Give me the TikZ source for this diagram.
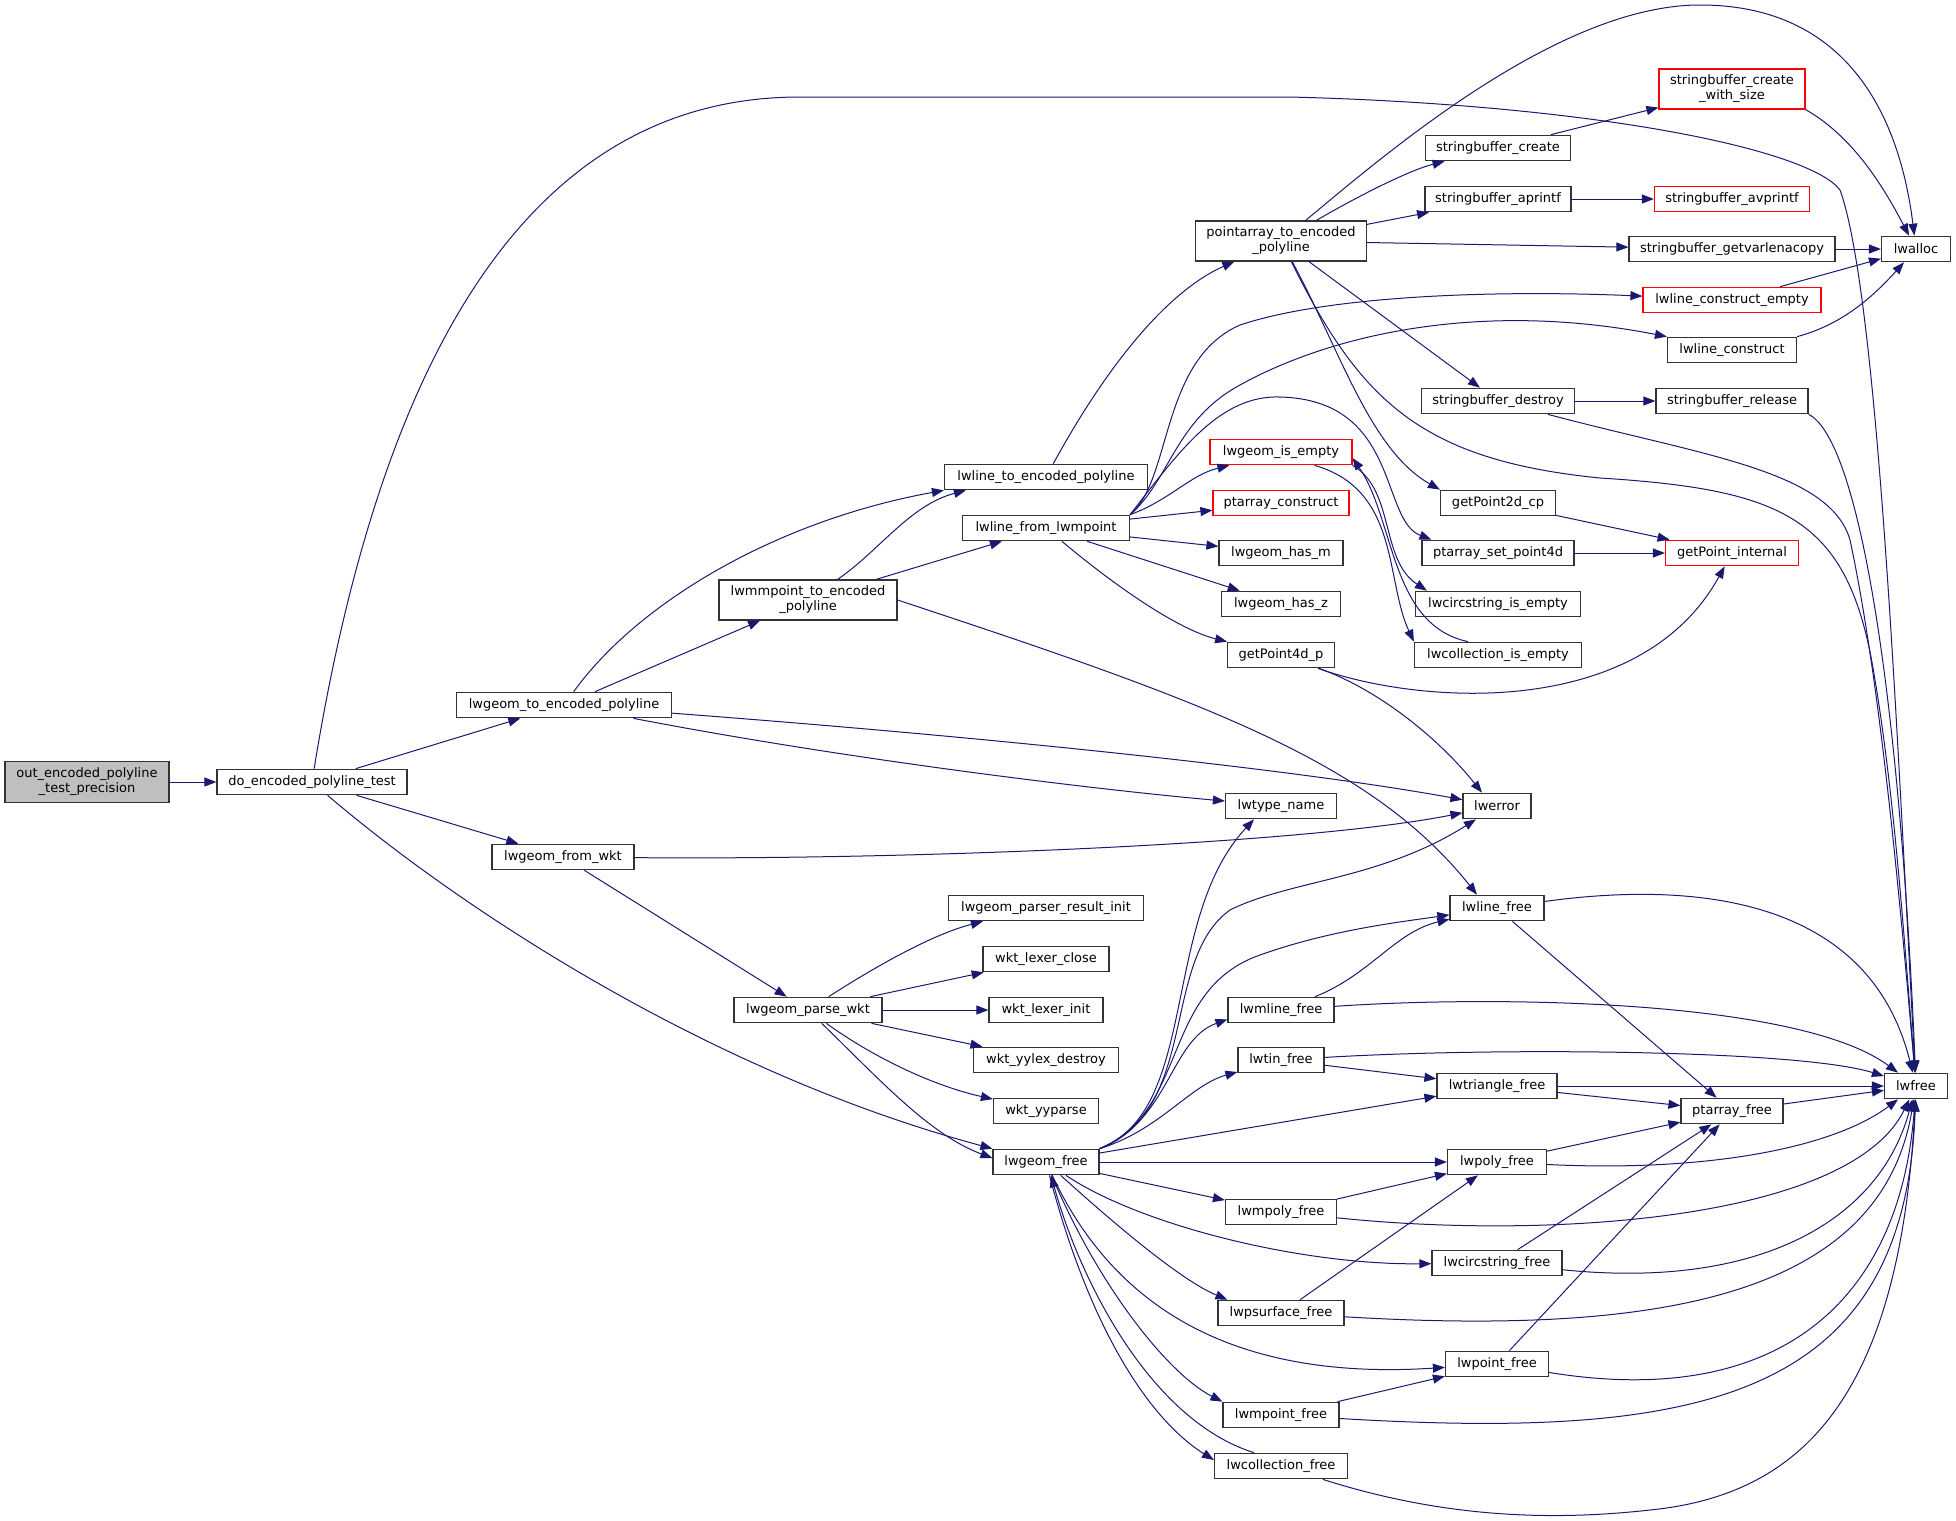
\documentclass[tikz,border=0pt]{standalone}
\usepackage{fontspec}
\setmainfont{DejaVu Sans}
\usepackage{xcolor}
\usepackage{tikz}
\usetikzlibrary{arrows.meta}

\definecolor{edgeblue}{HTML}{191970}
\definecolor{rootgray}{HTML}{BFBFBF}
\definecolor{boxline}{HTML}{333333}

\begin{document}
\begin{tikzpicture}[x=1pt, y=-1pt,
    fn/.style={draw=boxline, line width=1.2pt, fill=white, inner sep=2pt,
        minimum height=25.5pt, font=\fontsize{13}{15}\selectfont, align=center},
    fnred/.style={fn, draw=red},
    fnroot/.style={fn, fill=rootgray, minimum height=41pt},
    call/.style={draw=edgeblue, line width=1pt, -{Triangle[length=12pt, width=9pt]}}]

    \useasboundingbox (0,0) rectangle (1956,1520);

    % Caller chain
    \node[fnroot, minimum width=164pt] (outTest) at (87,782) {out\_encoded\_polyline\\\_test\_precision};
    \node[fn, minimum width=190pt] (doTest) at (312,782) {do\_encoded\_polyline\_test};
    \node[fn, minimum width=215pt] (geomToEnc) at (564,705) {lwgeom\_to\_encoded\_polyline};
    \node[fn, minimum width=142pt] (geomFromWkt) at (563,857) {lwgeom\_from\_wkt};
    \node[fn, minimum width=178pt, minimum height=40pt] (mpointToEnc) at (808,600) {lwmmpoint\_to\_encoded\\\_polyline};
    \node[fn, minimum width=148pt] (parseWkt) at (808,1010) {lwgeom\_parse\_wkt};
    \node[fn, minimum width=203pt] (lineToEnc) at (1046,477) {lwline\_to\_encoded\_polyline};
    \node[fn, minimum width=167pt] (lineFromMpoint) at (1046,528) {lwline\_from\_lwmpoint};

    % Parser column
    \node[fn, minimum width=195pt] (parserInit) at (1046,908) {lwgeom\_parser\_result\_init};
    \node[fn, minimum width=126pt] (lexerClose) at (1046,959) {wkt\_lexer\_close};
    \node[fn, minimum width=114pt] (lexerInit) at (1046,1010) {wkt\_lexer\_init};
    \node[fn, minimum width=145pt] (yylexDestroy) at (1046,1060) {wkt\_yylex\_destroy};
    \node[fn, minimum width=105pt] (yyparse) at (1046,1111) {wkt\_yyparse};
    \node[fn, minimum width=106pt] (geomFree) at (1046,1162) {lwgeom\_free};

    % Middle column
    \node[fn, minimum width=171pt, minimum height=40pt] (ptarrToEnc) at (1281,241) {pointarray\_to\_encoded\\\_polyline};
    \node[fnred, minimum width=142pt] (isEmpty) at (1281,452) {lwgeom\_is\_empty};
    \node[fnred, minimum width=136pt] (ptarrConstruct) at (1281,503) {ptarray\_construct};
    \node[fn, minimum width=124pt] (hasM) at (1281,553) {lwgeom\_has\_m};
    \node[fn, minimum width=119pt] (hasZ) at (1281,604) {lwgeom\_has\_z};
    \node[fn, minimum width=107pt] (getP4d) at (1281,655) {getPoint4d\_p};
    \node[fn, minimum width=111pt] (typeName) at (1281,806) {lwtype\_name};
    \node[fn, minimum width=106pt] (mlineFree) at (1281,1010) {lwmline\_free};
    \node[fn, minimum width=86pt] (tinFree) at (1281,1060) {lwtin\_free};
    \node[fn, minimum width=111pt] (mpolyFree) at (1281,1212) {lwmpoly\_free};
    \node[fn, minimum width=126pt] (psurfFree) at (1281,1313) {lwpsurface\_free};
    \node[fn, minimum width=116pt] (mpointFree) at (1281,1415) {lwmpoint\_free};
    \node[fn, minimum width=133pt] (collFree) at (1281,1466) {lwcollection\_free};

    % Third column
    \node[fn, minimum width=145pt] (sbCreate) at (1498,148) {stringbuffer\_create};
    \node[fn, minimum width=146pt] (sbAprintf) at (1498,199) {stringbuffer\_aprintf};
    \node[fn, minimum width=153pt] (sbDestroy) at (1498,401) {stringbuffer\_destroy};
    \node[fn, minimum width=115pt] (getP2d) at (1498,503) {getPoint2d\_cp};
    \node[fn, minimum width=152pt] (setP4d) at (1498,553) {ptarray\_set\_point4d};
    \node[fn, minimum width=165pt] (circIsEmpty) at (1498,604) {lwcircstring\_is\_empty};
    \node[fn, minimum width=167pt] (collIsEmpty) at (1498,655) {lwcollection\_is\_empty};
    \node[fn, minimum width=68pt] (lwerror) at (1497,806) {lwerror};
    \node[fn, minimum width=94pt] (lineFree) at (1497,908) {lwline\_free};
    \node[fn, minimum width=120pt] (triFree) at (1497,1086) {lwtriangle\_free};
    \node[fn, minimum width=99pt] (polyFree) at (1497,1162) {lwpoly\_free};
    \node[fn, minimum width=130pt] (circFree) at (1497,1263) {lwcircstring\_free};
    \node[fn, minimum width=103pt] (pointFree) at (1497,1364) {lwpoint\_free};

    % Fourth column
    \node[fnred, minimum width=146pt, minimum height=40pt] (sbCreateSize) at (1732,89) {stringbuffer\_create\\\_with\_size};
    \node[fnred, minimum width=155pt] (sbAvprintf) at (1732,199) {stringbuffer\_avprintf};
    \node[fn, minimum width=206pt] (sbGetvarlena) at (1732,249) {stringbuffer\_getvarlenacopy};
    \node[fnred, minimum width=178pt] (constructEmpty) at (1732,300) {lwline\_construct\_empty};
    \node[fn, minimum width=129pt] (lineConstruct) at (1732,350) {lwline\_construct};
    \node[fn, minimum width=152pt] (sbRelease) at (1732,401) {stringbuffer\_release};
    \node[fnred, minimum width=133pt] (getPinternal) at (1732,553) {getPoint\_internal};
    \node[fn, minimum width=102pt] (ptarrFree) at (1732,1111) {ptarray\_free};

    % Allocators
    \node[fn, minimum width=69pt] (lwalloc) at (1916,249) {lwalloc};
    \node[fn, minimum width=63pt] (lwfree) at (1916,1086) {lwfree};

    % do_encoded_polyline_test
    \draw[call] (outTest) -- (doTest);
    \draw[call] (doTest) .. controls (390,300) and (560,97) .. (800,97) -- (1290,97)
        .. controls (1600,105) and (1810,150) .. (1840,190) .. controls (1880,300) and (1900,800) .. (lwfree);
    \draw[call] (doTest) -- (geomToEnc);
    \draw[call] (doTest) -- (geomFromWkt);
    \draw[call] (doTest) .. controls (450,900) and (700,1070) .. (geomFree.north west);

    % lwgeom_to_encoded_polyline
    \draw[call] (geomToEnc) .. controls (640,600) and (780,520) .. (lineToEnc.south west);
    \draw[call] (geomToEnc) -- (mpointToEnc);
    \draw[call] (geomToEnc) .. controls (1000,738) and (1300,770) .. (lwerror);
    \draw[call] (geomToEnc) .. controls (850,760) and (1100,790) .. (typeName);

    % lwmmpoint_to_encoded_polyline
    \draw[call] (mpointToEnc) .. controls (880,550) and (910,505) .. ([xshift=22pt]lineToEnc.south west);
    \draw[call] (mpointToEnc) -- (lineFromMpoint);
    \draw[call] (mpointToEnc.east) .. controls (1200,700) and (1370,760) .. ([xshift=-20pt]lineFree.north);

    % lwline_to_encoded_polyline
    \draw[call] (lineToEnc) .. controls (1110,360) and (1170,290) .. (ptarrToEnc);

    % lwline_from_lwmpoint
    \draw[call] (lineFromMpoint.north east) .. controls (1172,480) and (1160,360) .. (1240,325)
        .. controls (1330,295) and (1500,290) .. (constructEmpty);
    \draw[call] (lineFromMpoint.north east) .. controls (1170,480) and (1175,420) .. (1240,385)
        .. controls (1330,335) and (1480,300) .. (lineConstruct.north west);
    \draw[call] (lineFromMpoint.north east) .. controls (1180,450) and (1220,395) .. (1280,397)
        .. controls (1400,400) and (1380,520) .. ([xshift=10pt]setP4d.north west);
    \draw[call] (lineFromMpoint.north east) .. controls (1170,500) and (1190,475) .. ([xshift=20pt]isEmpty.south west);
    \draw[call] (lineFromMpoint) -- (ptarrConstruct);
    \draw[call] (lineFromMpoint) -- (hasM);
    \draw[call] (lineFromMpoint) -- (hasZ);
    \draw[call] (lineFromMpoint) .. controls (1120,590) and (1180,630) .. (getP4d);

    % pointarray_to_encoded_polyline
    \draw[call] (ptarrToEnc) .. controls (1390,150) and (1560,5) .. (1700,5)
        .. controls (1850,5) and (1900,120) .. (lwalloc);
    \draw[call] (ptarrToEnc) .. controls (1360,195) and (1410,170) .. (sbCreate);
    \draw[call] (ptarrToEnc) -- (sbAprintf);
    \draw[call] (ptarrToEnc) -- (sbGetvarlena);
    \draw[call] (ptarrToEnc) -- (sbDestroy);
    \draw[call] (ptarrToEnc) .. controls (1340,350) and (1370,450) .. (getP2d.north west);
    \draw[call] (ptarrToEnc) .. controls (1360,400) and (1420,460) .. (1600,478)
        .. controls (1790,490) and (1850,520) .. (1875,680) .. controls (1895,800) and (1905,950) .. (lwfree);

    % stringbuffer
    \draw[call] (sbCreate) -- (sbCreateSize);
    \draw[call] (sbCreateSize.south east) .. controls (1850,135) and (1880,180) .. (lwalloc);
    \draw[call] (sbAprintf) -- (sbAvprintf);
    \draw[call] (sbGetvarlena) -- (lwalloc);
    \draw[call] (constructEmpty) -- (lwalloc);
    \draw[call] (lineConstruct.north east) .. controls (1840,325) and (1870,300) .. (lwalloc);
    \draw[call] (sbDestroy) -- (sbRelease);
    \draw[call] (sbDestroy) .. controls (1700,455) and (1830,470) .. (1850,540)
        .. controls (1880,680) and (1900,900) .. (lwfree);
    \draw[call] (sbRelease.south east) .. controls (1860,440) and (1900,700) .. (lwfree);

    % getPoint
    \draw[call] (getP2d) -- (getPinternal);
    \draw[call] (setP4d) -- (getPinternal);
    \draw[call] (getP4d) .. controls (1420,705) and (1640,720) .. (getPinternal);
    \draw[call] (getP4d) .. controls (1380,690) and (1440,740) .. ([xshift=-15pt]lwerror.north);

    % is_empty
    \draw[call] (isEmpty.south east) .. controls (1395,490) and (1380,560) .. ([xshift=12pt]circIsEmpty.north west);
    \draw[call] ([xshift=-38pt]isEmpty.south east) .. controls (1400,490) and (1385,580) .. (collIsEmpty.north west);
    \draw[call] ([xshift=-30pt]collIsEmpty.north) .. controls (1390,625) and (1395,520) .. ([yshift=-6pt]isEmpty.east);

    % lwgeom_from_wkt
    \draw[call] (geomFromWkt) .. controls (900,860) and (1300,845) .. (lwerror);
    \draw[call] (geomFromWkt) -- (parseWkt);

    % lwgeom_parse_wkt
    \draw[call] (parseWkt) .. controls (870,970) and (930,935) .. ([xshift=35pt]parserInit.south west);
    \draw[call] (parseWkt) -- (lexerClose);
    \draw[call] (parseWkt) -- (lexerInit);
    \draw[call] (parseWkt) -- (yylexDestroy);
    \draw[call] (parseWkt) .. controls (870,1055) and (930,1085) .. (yyparse);
    \draw[call] (parseWkt) .. controls (880,1080) and (930,1135) .. ([yshift=4pt]geomFree.west);

    % lwgeom_free
    \draw[call] (geomFree.north east) .. controls (1200,1110) and (1160,920) .. ([xshift=-27pt]typeName.south);
    \draw[call] (geomFree.north east) .. controls (1200,1110) and (1160,960) .. (1230,910)
        .. controls (1290,880) and (1380,880) .. (lwerror);
    \draw[call] (geomFree.north east) .. controls (1190,1110) and (1160,990) .. (1260,955)
        .. controls (1330,930) and (1400,922) .. (lineFree);
    \draw[call] (geomFree.north east) .. controls (1170,1120) and (1170,1040) .. ([yshift=4pt]mlineFree.south west);
    \draw[call] (geomFree.north east) .. controls (1160,1130) and (1190,1085) .. (tinFree);
    \draw[call] (geomFree) -- (triFree);
    \draw[call] (geomFree) -- (polyFree);
    \draw[call] (geomFree) -- (mpolyFree);
    \draw[call] (geomFree) .. controls (1140,1225) and (1300,1265) .. (circFree);
    \draw[call] (geomFree) .. controls (1110,1220) and (1180,1280) .. ([xshift=10pt]psurfFree.north west);
    \draw[call] (geomFree) .. controls (1120,1320) and (1250,1380) .. (pointFree);
    \draw[call] (geomFree) .. controls (1100,1290) and (1170,1375) .. (mpointFree.north west);
    \draw[call] (geomFree) .. controls (1090,1330) and (1150,1420) .. ([yshift=6pt]collFree.west);
    \draw[call] ([xshift=-27pt]collFree.north) .. controls (1150,1420) and (1080,1280) .. ([xshift=5pt]geomFree.south);

    % free functions
    \draw[call] (lineFree) .. controls (1700,880) and (1870,900) .. (lwfree);
    \draw[call] (lineFree) -- (ptarrFree);
    \draw[call] (mlineFree) .. controls (1370,975) and (1395,932) .. (lineFree);
    \draw[call] (mlineFree) .. controls (1500,995) and (1800,1000) .. (lwfree);
    \draw[call] (tinFree) -- (triFree);
    \draw[call] (tinFree) .. controls (1500,1047) and (1800,1050) .. (lwfree);
    \draw[call] (triFree) -- (lwfree);
    \draw[call] (triFree) -- (ptarrFree);
    \draw[call] (ptarrFree) -- (lwfree);
    \draw[call] (polyFree) -- (ptarrFree);
    \draw[call] (polyFree) .. controls (1700,1172) and (1830,1150) .. (lwfree);
    \draw[call] (mpolyFree) -- (polyFree);
    \draw[call] (mpolyFree) .. controls (1550,1240) and (1850,1220) .. (lwfree);
    \draw[call] (circFree) -- (ptarrFree);
    \draw[call] (circFree) .. controls (1760,1290) and (1880,1220) .. (lwfree);
    \draw[call] (psurfFree) -- (polyFree);
    \draw[call] (psurfFree) .. controls (1650,1335) and (1880,1300) .. (lwfree);
    \draw[call] (pointFree) -- (ptarrFree);
    \draw[call] (pointFree) .. controls (1780,1410) and (1900,1300) .. (lwfree);
    \draw[call] (mpointFree) -- (pointFree);
    \draw[call] (mpointFree) .. controls (1700,1440) and (1905,1400) .. (lwfree);
    \draw[call] (collFree) .. controls (1450,1520) and (1560,1520) .. (1650,1510)
        .. controls (1800,1495) and (1900,1400) .. (lwfree);

\end{tikzpicture}
\end{document}
